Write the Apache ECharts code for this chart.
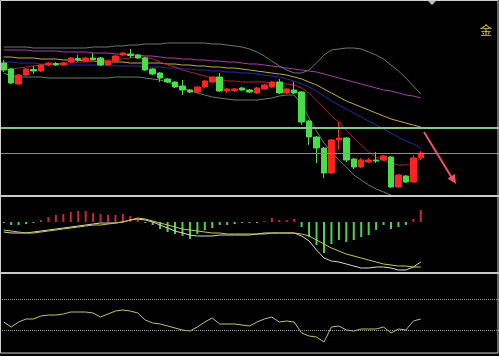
<!DOCTYPE html>
<html><head><meta charset="utf-8">
<script src="https://cdn.jsdelivr.net/npm/echarts/dist/echarts.min.js"></script>
<style>html,body{margin:0;padding:0;background:#000;overflow:hidden}#c{width:499px;height:356px}</style>
</head><body><div id="c"></div><script>
// 67 trading slots, 57 with data (right side left empty as in the terminal view)
const categories = Array.from({length: 67}, (_, i) => String(i + 1));

// [open, close, low, high]
const candles = [
 [137,130,128,140],[131,117,116,132],[116,125,115,126],[125,131,124,132],[130.5,129,126,134],
 [129,135,128,136],[135,137,134,138],[136.5,135,134,138],[135,137,134,138],[138,142,137,143],
 [141.5,140,138,145],[139,142,138,143],[142,140.5,140,147],[142,135,134,143],[135,139,134,140],
 [139,144,138,145],[145,147,144,148],[146,144.5,142,151],[145,142,141,146],[142,130,129,143],
 [131,126,125,132],[127,122,118,128],[121,118,117,122],[118,113,112,119],[114,110,105,120],
 [110,108,107,111],[108,113,107,114],[113,119,112,120],[118,123,117,124],[123,109,108,127],
 [109,111,107,112],[109.5,111,108,112],[112,110,109,113],[110,108,107,111],[107,112,106,113],
 [111,115,110,116],[113,118,112,119],[118,107,106,121],[107,111,106,112],[110,107,106,118],
 [108,78,75,109],[79,63,55,80],[63,52,37,64],[52,27,22,53],[27,60,26,61],
 [60,62,50,78],[62,40,38,63],[41,33,31,42],[33,40,32,42],[38,40,37,42],
 [40,39,37,48],[40,44,39,45],[43,13,12,44],[13,25,12,26],[24,18,17,25],
 [18,42,17,45],[42,47,40,49]
];

const maPurple = [150,150,150,150,149,149,149,149,148,148,148,
 148,147,147,147,146,146,145,145,144,144,143,
 142,142,141,141,140,140,139,139,138,138,137,
 136,136,135,134,133,132,131,130,129,128,126,
 124,122,120,118,116,114,112,110,109,107,105,104,102];
const maYellow = [143,143,142,142,142,141,141,141,140,140,140,
 139,139,138,138,138,138,137,137,137,137,137,
 136,136,135,135,134,134,133,133,132,132,131,
 130,129,128,127,126,125,123,121,118,115,111,
 107,103,99,96,93,90,87,84,81,79,77,75,73];
const maBlue = [138,138,137,137,137,136,136,136,136,135,135,
 135,135,135,135,134,134,134,134,133,133,133,
 132,132,131,131,130,130,129,129,128,128,127,
 127,126,125,124,123,121,119,116,113,109,104,
 99,95,91,87,83,79,75,71,67,63,59,56,52];
const maRed = [130,131,132,133,134,135,136,136,137,137,138,
 138,139,139,140,140,141,142,143,143,141,138,
 135,133,130,128,126,124,122,120,119,119,118,
 118,118,118,117,117,116,115,112,107,100,92,
 84,78,70,62,55,48,43,40,37,35,35,37,42];
const bandUpper = [153,153,153,153,152,152,152,152,152,152,152,
 152,153,153,153,154,154,155,155,156,156,156,
 157,157,157,157,157,157,156,156,155,154,153,
 151,148,144,139,134,130,127,127,130,137,145,
 150,151,152,152,151,148,145,141,135,129,122,114,106];
const bandLower = [127,124,123,123,123,123,122,122,122,122,122,
 122,122,122,122,123,123,123,123,122,121,120,
 118,115,112,109,107,105,103,102,101,100,100,
 100,100,101,102,104,105,105,96,82,69,57,
 48,40,33,25,20,15,11,8,5,null,null,null,null];

const macdHist = [-0.01,-0.03,-0.03,-0.02,-0.01,0.02,0.05,0.07,0.08,0.10,
 0.11,0.11,0.09,0.08,0.07,0.07,0.08,0.06,0.03,-0.01,
 -0.03,-0.07,-0.10,-0.12,-0.14,-0.17,-0.12,-0.08,-0.06,-0.03,
 -0.03,-0.02,-0.01,-0.01,-0.01,0.01,0.04,0.02,0.02,0.03,
 -0.05,-0.15,-0.23,-0.31,-0.22,-0.18,-0.20,-0.18,-0.15,-0.13,
 -0.08,-0.03,-0.07,-0.05,-0.03,0.03,0.12];
const macdDif = [-0.10,-0.11,-0.11,-0.11,-0.10,-0.09,-0.08,-0.07,-0.06,-0.05,
 -0.04,-0.03,-0.02,-0.01,-0.01,-0.01,0.00,0.02,0.03,0.02,
 0.00,-0.03,-0.06,-0.09,-0.11,-0.13,-0.14,-0.14,-0.14,-0.13,
 -0.13,-0.13,-0.13,-0.13,-0.12,-0.11,-0.11,-0.11,-0.11,-0.11,
 -0.14,-0.19,-0.28,-0.36,-0.39,-0.40,-0.42,-0.44,-0.46,-0.46,
 -0.45,-0.45,-0.46,-0.48,-0.48,-0.45,-0.40];
const macdDea = [-0.08,-0.09,-0.10,-0.11,-0.11,-0.10,-0.09,-0.08,-0.07,-0.06,
 -0.05,-0.04,-0.03,-0.03,-0.02,-0.01,0.00,0.02,0.04,0.03,
 0.01,-0.01,-0.03,-0.05,-0.07,-0.08,-0.09,-0.10,-0.11,-0.11,
 -0.12,-0.12,-0.12,-0.12,-0.12,-0.12,-0.11,-0.11,-0.11,-0.11,
 -0.12,-0.14,-0.18,-0.22,-0.26,-0.29,-0.32,-0.34,-0.36,-0.38,
 -0.40,-0.42,-0.43,-0.44,-0.44,-0.45,-0.45];

const oscValues = [30,25,30,33,33,36,37,37,38,40,
 40,40,39,35,38,41,42,41,39,32,
 29,28,26,24,22,21,25,30,34,28,
 28,28,27,26,30,33,35,30,31,30,
 19,16,15,10,25,26,22,21,23,23,
 23,25,19,23,22,31,33];

const priceLevels = [72, 47];
const oscLevels = [53, 22];

const chart = echarts.init(document.getElementById('c'), null, {renderer: 'canvas'});
const xa = (g) => ({type: 'category', gridIndex: g, data: categories, show: false, boundaryGap: true});
const ya = (g, min, max) => ({type: 'value', gridIndex: g, min, max, show: false, splitLine: {show: false}});
const line = (name, data, color, g) => ({
  name, type: 'line', data, xAxisIndex: g, yAxisIndex: g, symbol: 'none', silent: true,
  lineStyle: {color, width: 1}, z: 2
});

chart.setOption({
  backgroundColor: '#000',
  animation: false,
  grid: [
    {left: 0, right: 0, top: 0, height: 196},
    {left: 0, right: 0, top: 198, height: 74},
    {left: 0, right: 0, top: 275, height: 77}
  ],
  xAxis: [xa(0), xa(1), xa(2)],
  yAxis: [ya(0, 4, 200), ya(1, -0.50, 0.24), ya(2, 0, 77)],
  series: [
    line('upper', bandUpper, '#61806d', 0),
    line('lower', bandLower, '#61806d', 0),
    line('ma60', maPurple, '#a83ea8', 0),
    line('ma20', maYellow, '#c2aa48', 0),
    line('ma30', maBlue, '#2a2aa8', 0),
    line('ma10', maRed, '#b02424', 0),
    {
      name: 'K', type: 'candlestick', data: candles, xAxisIndex: 0, yAxisIndex: 0,
      barWidth: 6, silent: true, z: 3,
      itemStyle: {color: '#ff2424', color0: '#46e046', borderColor: '#ff2424', borderColor0: '#46e046', borderWidth: 1},
      markLine: {
        silent: true, symbol: 'none', label: {show: false},
        data: [
          {yAxis: priceLevels[0], lineStyle: {color: '#86c986', width: 2, type: 'solid'}},
          {yAxis: priceLevels[1], lineStyle: {color: '#8c8c8c', width: 1, type: 'solid'}}
        ]
      }
    },
    {
      name: 'MACD', type: 'bar', data: macdHist, xAxisIndex: 1, yAxisIndex: 1, barWidth: 2, silent: true,
      itemStyle: {color: (p) => p.value >= 0 ? '#c8283a' : '#4cd44c'}
    },
    line('DIF', macdDif, '#d8d8d8', 1),
    line('DEA', macdDea, '#c8c84a', 1),
    Object.assign(line('osc', oscValues, '#c8c060', 2), {
      markLine: {
        silent: true, symbol: 'none', label: {show: false},
        data: [
          {yAxis: oscLevels[0], lineStyle: {color: '#9a9a9a', width: 1, type: 'dotted'}},
          {yAxis: oscLevels[1], lineStyle: {color: '#9a9a9a', width: 1, type: 'dotted'}}
        ]
      }
    })
  ],
  graphic: [
    {type: 'rect', shape: {x: 0.5, y: 0.5, width: 497.5, height: 352.5}, style: {fill: 'none', stroke: '#cfcfcf', lineWidth: 1}, silent: true, z: 10},
    {type: 'line', shape: {x1: 0, y1: 196, x2: 499, y2: 196}, style: {stroke: '#c8c8c8', lineWidth: 2}, silent: true, z: 10},
    {type: 'line', shape: {x1: 0, y1: 273, x2: 499, y2: 273}, style: {stroke: '#c8c8c8', lineWidth: 2}, silent: true, z: 10},
    {type: 'line', shape: {x1: 424, y1: 132, x2: 452, y2: 178}, style: {stroke: '#f0506a', lineWidth: 2}, silent: true, z: 10},
    {type: 'polygon', shape: {points: [[456, 184], [447.5, 178.6], [454.9, 174.0]]}, style: {fill: '#f0506a'}, silent: true, z: 10},
    {type: 'polygon', shape: {points: [[428, 1], [436, 1], [432, 5]]}, style: {fill: '#b8b8b8'}, silent: true, z: 10},
    {type: 'text', left: 480, top: 24, style: {text: '金', fill: '#d8c840', font: '12px "Noto Sans CJK SC"'}, silent: true, z: 10}
  ]
});
</script></body></html>
